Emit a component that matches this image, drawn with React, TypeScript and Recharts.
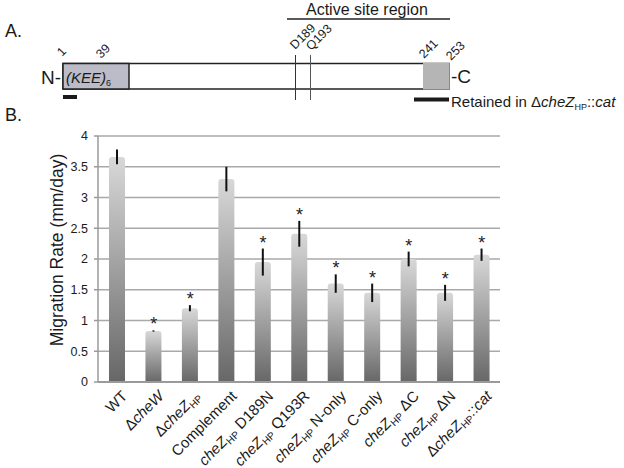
import React from "react";
import {
  ComposedChart,
  Bar,
  ErrorBar,
  Scatter,
  XAxis,
  YAxis,
  CartesianGrid,
} from "recharts";

// markup: *italic*, _{subscript}
const CATEGORIES = [
  "WT",
  "Δ*cheW*",
  "Δ*cheZ*_{HP}",
  "Complement",
  "*cheZ*_{HP} D189N",
  "*cheZ*_{HP} Q193R",
  "*cheZ*_{HP} N-only",
  "*cheZ*_{HP} C-only",
  "*cheZ*_{HP} ΔC",
  "*cheZ*_{HP} ΔN",
  "Δ*cheZ*_{HP}::*cat*",
];
const MIGRATION_RATE = [3.66, 0.83, 1.2, 3.3, 1.95, 2.41, 1.6, 1.45, 2.0, 1.45, 2.07];
const SEM = [0.12, 0.01, 0.05, 0.2, 0.22, 0.21, 0.15, 0.15, 0.12, 0.13, 0.1];
const SIGNIFICANT = [false, true, true, false, true, true, true, true, true, true, true];
const Y_TICKS = [0, 0.5, 1, 1.5, 2, 2.5, 3, 3.5, 4];

const FONT = "'Liberation Sans', Arial, sans-serif";

const data = CATEGORIES.map((name, i) => ({
  name,
  rate: MIGRATION_RATE[i],
  err: SEM[i],
  star: SIGNIFICANT[i] ? MIGRATION_RATE[i] + SEM[i] : null,
}));

function rich(str: string, subSize: number, shift: number) {
  const parts = str.split(/(\*[^*]+\*|_\{[^}]+\})/).filter((p) => p !== "");
  let lowered = false;
  return parts.map((p, i) => {
    if (p.startsWith("_{")) {
      lowered = true;
      return (
        <tspan key={i} dy={shift} fontSize={subSize}>
          {p.slice(2, -1)}
        </tspan>
      );
    }
    const dy = lowered ? -shift : undefined;
    lowered = false;
    if (p.startsWith("*")) {
      return (
        <tspan key={i} dy={dy} fontStyle="italic">
          {p.slice(1, -1)}
        </tspan>
      );
    }
    return (
      <tspan key={i} dy={dy}>
        {p}
      </tspan>
    );
  });
}

function XTick(props: any) {
  const { x, y, payload } = props;
  return (
    <g transform={`translate(${x + 11},${y + 15})`}>
      <text
        transform="rotate(-45)"
        textAnchor="end"
        fontSize={15}
        fill="#1a1a1a"
        fontFamily={FONT}
      >
        {rich(payload.value, 10, 3)}
      </text>
    </g>
  );
}

function Star(props: any) {
  const { cx, cy, payload } = props;
  if (payload == null || payload.star == null) return null;
  return (
    <text x={cx} y={cy} textAnchor="middle" fontSize={18} fill="#222" fontFamily={FONT}>
      *
    </text>
  );
}

function PanelA() {
  const txt = { fontFamily: FONT, fill: "#1a1a1a" } as const;
  return (
    <svg
      width={624}
      height={468}
      style={{ position: "absolute", left: 0, top: 0, pointerEvents: "none" }}
    >
      <text x={5} y={37} fontSize={18} {...txt}>A.</text>
      <text x={5} y={121} fontSize={18} {...txt}>B.</text>

      {/* active site bracket */}
      <text x={306} y={15} fontSize={16} {...txt}>Active site region</text>
      <line x1={287} y1={19} x2={450} y2={19} stroke="#222" strokeWidth={1.5} />

      {/* protein bar */}
      <rect x={63} y={63.5} width={386} height={25.5} fill="#fff" stroke="#222" strokeWidth={1.5} />
      <rect x={63} y={63.5} width={66} height={25.5} fill="#bcbcc8" stroke="#222" strokeWidth={1.5} />
      <rect x={423} y={63} width={26.5} height={26.5} fill="#b5b5b5" />
      <line x1={295.5} y1={55} x2={295.5} y2={100} stroke="#333" strokeWidth={1} />
      <line x1={310.5} y1={55} x2={310.5} y2={100} stroke="#555" strokeWidth={1} />

      <text x={41} y={84} fontSize={19} {...txt}>N-</text>
      <text x={451} y={83} fontSize={19} {...txt}>-C</text>
      <text x={66} y={83} fontSize={15} {...txt}>
        {rich("*(KEE)*_{6}", 9, 3)}
      </text>

      {/* residue numbers */}
      <text x={62} y={57} fontSize={12.5} transform="rotate(-45 62 57)" {...txt}>1</text>
      <text x={101} y={59} fontSize={12.5} transform="rotate(-45 101 59)" {...txt}>39</text>
      <text x={295} y={50} fontSize={12.5} transform="rotate(-45 295 50)" {...txt}>D189</text>
      <text x={311} y={51} fontSize={12.5} transform="rotate(-45 311 51)" {...txt}>Q193</text>
      <text x={424} y={59} fontSize={12.5} transform="rotate(-45 424 59)" {...txt}>241</text>
      <text x={451} y={61} fontSize={12.5} transform="rotate(-45 451 61)" {...txt}>253</text>

      {/* retained regions */}
      <rect x={63} y={95} width={14} height={4} fill="#1a1a1a" />
      <rect x={414} y={97.5} width={35} height={4} fill="#1a1a1a" />
      <text x={451} y={106.5} fontSize={15} {...txt}>
        {rich("Retained in Δ*cheZ*_{HP}::*cat*", 9, 3)}
      </text>
    </svg>
  );
}

export default function App() {
  return (
    <div
      style={{
        position: "absolute",
        left: 0,
        top: 0,
        width: 624,
        height: 468,
        background: "#fff",
      }}
    >
      <ComposedChart
        width={624}
        height={468}
        data={data}
        margin={{ top: 136, right: 124, bottom: 6, left: 0 }}
        barCategoryGap={0}
      >
        <defs>
          <linearGradient id="barGrad" x1="0" y1="0" x2="0" y2="1">
            <stop offset="0%" stopColor="#d8d8d8" />
            <stop offset="100%" stopColor="#676767" />
          </linearGradient>
        </defs>
        <CartesianGrid vertical={false} stroke="#a9a9a9" strokeWidth={1.5} />
        <XAxis
          dataKey="name"
          interval={0}
          tickLine={false}
          tickSize={0}
          tickMargin={0}
          height={80}
          padding={{ left: 1, right: 0 }}
          axisLine={{ stroke: "#9a9a9a", strokeWidth: 2 }}
          tick={<XTick />}
        />
        <YAxis
          width={98}
          domain={[0, 4]}
          ticks={Y_TICKS}
          interval={0}
          tickSize={4}
          tickMargin={6}
          axisLine={{ stroke: "#9a9a9a", strokeWidth: 1.5 }}
          tickLine={{ stroke: "#9a9a9a", strokeWidth: 1.5 }}
          tick={{ fill: "#1a1a1a", fontSize: 12.5, fontFamily: FONT }}
          label={{
            content: () => (
              <text
                x={63}
                y={250}
                transform="rotate(-90 63 250)"
                textAnchor="middle"
                fontSize={17.5}
                fill="#1a1a1a"
                fontFamily={FONT}
              >
                Migration Rate (mm/day)
              </text>
            ),
          }}
        />
        <Bar
          dataKey="rate"
          fill="url(#barGrad)"
          barSize={16}
          radius={[3, 3, 0, 0]}
          isAnimationActive={false}
        >
          <ErrorBar dataKey="err" width={0} stroke="#111" strokeWidth={2} />
        </Bar>
        <Scatter dataKey="star" shape={<Star />} isAnimationActive={false} />
      </ComposedChart>
      <PanelA />
    </div>
  );
}
